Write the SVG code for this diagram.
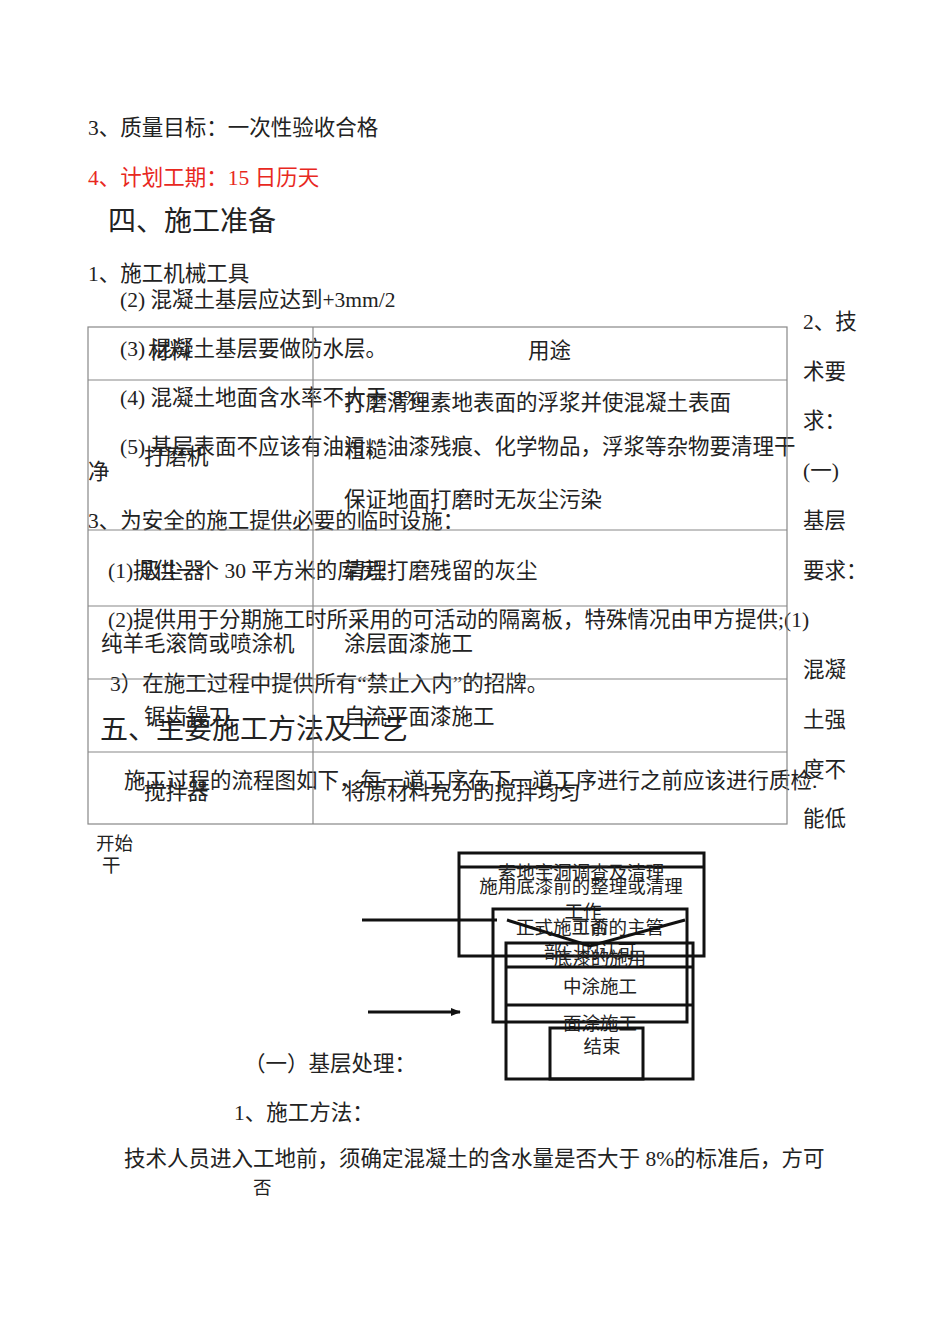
<svg xmlns="http://www.w3.org/2000/svg" width="950" height="1344" viewBox="0 0 950 1344">
<style>
text{font-family:"Liberation Serif","Noto Sans CJK SC",serif;font-size:21.5px;fill:#222}
.r{fill:#e8281e}
.h{font-size:28px}
.s{font-size:18.5px}
.c{text-anchor:middle}
.tl{stroke:#888;stroke-width:1.2;fill:none}
.b{stroke:#111;stroke-width:3;fill:none}
</style>
<defs><marker id="a" markerWidth="10" markerHeight="10" refX="9" refY="5" orient="auto" markerUnits="userSpaceOnUse"><path d="M0,1 L10,5 L0,9z" fill="#111"/></marker></defs>
<rect width="950" height="1344" fill="#fff"/>
<g id="text">
<text x="88" y="135">3、质量目标：一次性验收合格</text>
<text x="88" y="185" class="r">4、计划工期：15 日历天</text>
<text x="108" y="231" class="h">四、施工准备</text>
<text x="88" y="281">1、施工机械工具</text>
<text x="120" y="307">(2) 混凝土基层应达到+3mm/2</text>
<text x="120" y="356">(3) 混凝土基层要做防水层。</text>
<text x="148" y="358">材料</text>
<text x="528" y="358">用途</text>
<text x="120" y="405">(4) 混凝土地面含水率不大于 8%。</text>
<text x="344" y="410">打磨清理素地表面的浮浆并使混凝土表面</text>
<text x="120" y="454">(5) 基层表面不应该有油污、油漆残痕、化学物品，浮浆等杂物要清理干</text>
<text x="88" y="479">净</text>
<text x="144" y="464">打磨机</text>
<text x="344" y="457">粗糙</text>
<text x="344" y="507">保证地面打磨时无灰尘污染</text>
<text x="88" y="528">3、为安全的施工提供必要的临时设施：</text>
<text x="108" y="578">(1)提供一个 30 平方米的库房;</text>
<text x="140" y="578">吸尘器</text>
<text x="344" y="578">清理打磨残留的灰尘</text>
<text x="108" y="627">(2)提供用于分期施工时所采用的可活动的隔离板，特殊情况由甲方提供;(1)</text>
<text x="101" y="651">纯羊毛滚筒或喷涂机</text>
<text x="344" y="651">涂层面漆施工</text>
<text x="110" y="691">3）在施工过程中提供所有“禁止入内”的招牌。</text>
<text x="144" y="724">锯齿镘刀</text>
<text x="344" y="724">自流平面漆施工</text>
<text x="100" y="739" class="h">五、主要施工方法及工艺</text>
<text x="124" y="788">施工过程的流程图如下，每一道工序在下一道工序进行之前应该进行质检.</text>
<text x="144" y="799">搅拌器</text>
<text x="344" y="799">将原材料充分的搅拌均匀</text>
<text x="803" y="329">2、技</text>
<text x="803" y="379">术要</text>
<text x="803" y="428">求：</text>
<text x="803" y="478">(一)</text>
<text x="803" y="528">基层</text>
<text x="803" y="578">要求：</text>
<text x="803" y="677">混凝</text>
<text x="803" y="727">土强</text>
<text x="803" y="777">度不</text>
<text x="803" y="826">能低</text>
<text x="96" y="850" class="s">开始</text>
<text x="102" y="872" class="s">干</text>
<text x="244" y="1071">（一）基层处理：</text>
<text x="234" y="1120">1、施工方法：</text>
<text x="124" y="1166">技术人员进入工地前，须确定混凝土的含水量是否大于 8%的标准后，方可</text>
<text x="253" y="1194" class="s">否</text>
</g>
<g id="table">
<rect x="88" y="327" width="699" height="497" class="tl"/>
<line x1="313" y1="327" x2="313" y2="824" class="tl"/>
<line x1="88" y1="380" x2="787" y2="380" class="tl"/>
<line x1="88" y1="530" x2="787" y2="530" class="tl"/>
<line x1="88" y1="606" x2="787" y2="606" class="tl"/>
<line x1="88" y1="679" x2="787" y2="679" class="tl"/>
<line x1="88" y1="752" x2="787" y2="752" class="tl"/>
</g>
<g id="nodeA"><rect x="459" y="853" width="245" height="103" class="b"/><line x1="459" y1="867" x2="704" y2="867" class="b"/>
<text x="581" y="879" class="c s">素地宇洞调查及清理</text><text x="581" y="893" class="c s">施用底漆前的整理或清理</text><text x="583" y="918" class="c s">工作</text></g>
<g id="nodeB"><rect x="493" y="909" width="194" height="113" class="b"/>
<text x="590" y="934" class="c s">正式施工前的主管</text><text x="590" y="933" class="c s">可否</text><text x="590" y="958" class="c s">部门的认可</text></g>
<g id="nodeC"><rect x="506" y="943" width="187" height="136" class="b"/><line x1="506" y1="967" x2="693" y2="967" class="b"/><line x1="506" y1="1005" x2="693" y2="1005" class="b"/>
<text x="600" y="965" class="c s">底漆的施用</text><text x="600" y="993" class="c s">中涂施工</text><text x="600" y="1030" class="c s">面涂施工</text></g>
<g id="nodeD"><rect x="550" y="1028" width="93" height="51" class="b" fill="#fff"/><text x="602" y="1053" class="c s">结束</text></g>
<g id="connectors">
<line x1="362" y1="920" x2="497" y2="920" class="b"/>
<polyline points="507,920 590,946 685,920" class="b"/>
<line x1="368" y1="1012" x2="460" y2="1012" class="b" marker-end="url(#a)"/>
</g>
</svg>
